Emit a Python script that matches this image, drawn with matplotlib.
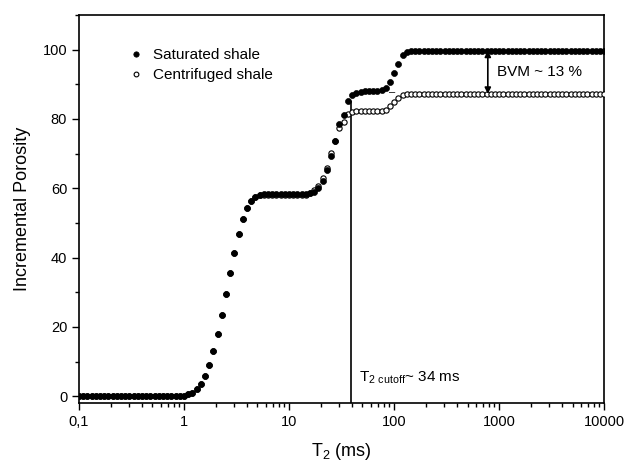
import numpy as np
import matplotlib
matplotlib.use("Agg")
from matplotlib import pyplot as plt
from matplotlib.ticker import LogLocator, FixedLocator, FixedFormatter, MultipleLocator, NullFormatter

plt.rcParams['font.family'] = ['Liberation Sans', 'DejaVu Sans']
plt.rcParams['mathtext.fontset'] = 'custom'
plt.rcParams['mathtext.rm'] = 'Liberation Sans'

# T2 bins (ms): 25 bins per decade, 0.1 .. 10000
t2 = 10 ** (np.arange(126) / 25.0 - 1)

# saturated shale, one value per bin
saturated = [
    0.0, 0.0, 0.0, 0.0, 0.0, 0.0, 0.0, 0.0, 0.0, 0.0,
    0.0, 0.0, 0.0, 0.0, 0.0, 0.0, 0.0, 0.0, 0.0, 0.0,
    0.0, 0.0, 0.0, 0.0, 0.1, 0.2, 0.5, 1.0, 2.0, 3.6,
    5.9, 9.0, 13.0, 18.0, 23.5, 29.5, 35.6, 41.4, 46.8, 51.2,
    54.4, 56.4, 57.6, 58.1, 58.3, 58.3, 58.3, 58.3, 58.3, 58.3,
    58.3, 58.3, 58.3, 58.3, 58.3, 58.5, 58.9, 60.0, 62.0, 65.2,
    69.3, 73.7, 78.5, 81.1, 85.3, 87.0, 87.6, 87.8, 87.9, 88.0,
    88.0, 88.0, 88.2, 88.9, 90.7, 93.2, 95.9, 98.3, 99.3, 99.6,
    99.7, 99.7, 99.7, 99.7, 99.7, 99.7, 99.7, 99.7, 99.7, 99.7,
    99.7, 99.7, 99.7, 99.7, 99.7, 99.7, 99.7, 99.7, 99.7, 99.7,
    99.7, 99.7, 99.7, 99.7, 99.7, 99.7, 99.7, 99.7, 99.7, 99.7,
    99.7, 99.7, 99.7, 99.7, 99.7, 99.7, 99.7, 99.7, 99.7, 99.7,
    99.7, 99.7, 99.7, 99.7, 99.7, 99.7,
]

# centrifuged shale, one value per bin
centrifuged = [
    0.0, 0.0, 0.0, 0.0, 0.0, 0.0, 0.0, 0.0, 0.0, 0.0,
    0.0, 0.0, 0.0, 0.0, 0.0, 0.0, 0.0, 0.0, 0.0, 0.0,
    0.0, 0.0, 0.0, 0.0, 0.1, 0.2, 0.5, 1.0, 2.0, 3.6,
    5.9, 9.0, 13.0, 18.0, 23.5, 29.5, 35.6, 41.4, 46.8, 51.2,
    54.4, 56.4, 57.6, 57.9, 57.9, 57.9, 57.9, 57.9, 57.9, 57.9,
    57.9, 57.9, 57.9, 57.9, 58.1, 58.6, 59.5, 60.5, 62.9, 65.9,
    70.2, 73.7, 77.3, 79.0, 81.3, 82.0, 82.2, 82.2, 82.2, 82.2,
    82.2, 82.2, 82.3, 82.7, 83.6, 84.9, 86.0, 86.8, 87.1, 87.2,
    87.2, 87.2, 87.2, 87.2, 87.2, 87.2, 87.2, 87.2, 87.2, 87.2,
    87.2, 87.2, 87.2, 87.2, 87.2, 87.2, 87.2, 87.2, 87.2, 87.2,
    87.2, 87.2, 87.2, 87.2, 87.2, 87.2, 87.2, 87.2, 87.2, 87.2,
    87.2, 87.2, 87.2, 87.2, 87.2, 87.2, 87.2, 87.2, 87.2, 87.2,
    87.2, 87.2, 87.2, 87.2, 87.2, 87.2,
]

t2_cutoff = 38.5
x_ticks = [0.1, 1, 10, 100, 1000, 10000]
x_tick_labels = ["0,1", "1", "10", "100", "1000", "10000"]

fig = plt.figure(figsize=(6.32, 4.65), dpi=100)
ax = fig.add_axes([0.125, 0.133, 0.831, 0.835])

ax.plot(t2, centrifuged, "o", ms=3.8, mfc="white", mec="black", mew=0.8,
        label="Centrifuged shale", zorder=3)
ax.plot(t2, saturated, "o", ms=4.3, mfc="black", mec="black", mew=0.5,
        label="Saturated shale", zorder=4)

# T2 cutoff line
ax.vlines(t2_cutoff, -2, saturated[64], color="black", lw=1.2, zorder=2)
ax.text(46, 5.5, r"T$_{\mathregular{2\ cutoff}}$~ 34 ms", fontsize=11,
        ha="left", va="center")

# BVM arrow between the two plateaus
ax.annotate("", xy=(780, saturated[-1]), xytext=(780, centrifuged[-1]),
            arrowprops=dict(arrowstyle="<|-|>", color="black", lw=1.2,
                            mutation_scale=9, shrinkA=0, shrinkB=0))
ax.text(950, 93.4, "BVM ~ 13 %", fontsize=11, ha="left", va="center")
ax.text(96, 87.8, "–", fontsize=8, ha="center", va="center")

ax.set_xscale("log")
ax.set_xlim(0.1, 10000)
ax.set_ylim(-2, 110)
ax.xaxis.set_major_locator(FixedLocator(x_ticks))
ax.xaxis.set_major_formatter(FixedFormatter(x_tick_labels))
ax.xaxis.set_minor_locator(LogLocator(base=10, subs=np.arange(2, 10), numticks=20))
ax.xaxis.set_minor_formatter(NullFormatter())
ax.yaxis.set_major_locator(MultipleLocator(20))
ax.yaxis.set_minor_locator(MultipleLocator(10))

ax.tick_params(which="both", direction="out", top=False, right=False, labelsize=10.5)
ax.tick_params(which="major", length=5, width=1)
ax.tick_params(which="minor", length=3, width=1)
for s in ax.spines.values():
    s.set_linewidth(1.2)

ax.set_xlabel("T$_2$ (ms)", fontsize=13, labelpad=9)
ax.set_ylabel("Incremental Porosity", fontsize=13, labelpad=8)

handles, labels = ax.get_legend_handles_labels()
ax.legend(handles[::-1], labels[::-1], loc="upper left", bbox_to_anchor=(0.068, 0.95),
          frameon=False, fontsize=11, handletextpad=0.6, labelspacing=0.4,
          handlelength=1.0, markerscale=0.9)

fig.savefig("out.png", dpi=100)
